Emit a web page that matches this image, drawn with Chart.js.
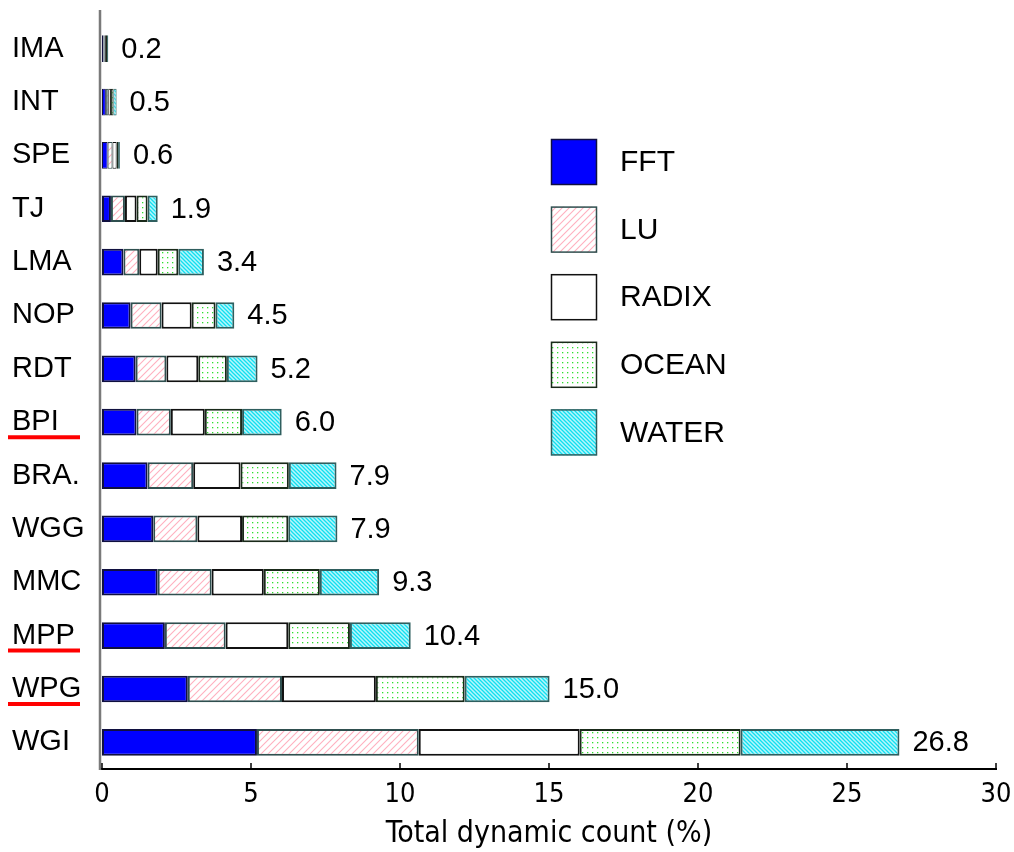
<!DOCTYPE html>
<html>
<head>
<meta charset="utf-8">
<script src="https://cdn.jsdelivr.net/npm/chart.js@4.4.1/dist/chart.umd.min.js"></script>
<style>
  html, body { margin: 0; padding: 0; background: #fff; }
  #wrap { width: 1014px; height: 852px; }
</style>
</head>
<body>
<div id="wrap"><canvas id="grafico" width="1014" height="852"></canvas></div>
<script>
// categorias (de cima para baixo)
var categorias = ['IMA', 'INT', 'SPE', 'TJ', 'LMA', 'NOP', 'RDT', 'BPI', 'BRA.', 'WGG', 'MMC', 'MPP', 'WPG', 'WGI'];

// valores por serie (%)
var valoresFFT   = [0.05, 0.13, 0.19, 0.30, 0.72, 0.96, 1.13, 1.16, 1.53, 1.72, 1.87, 2.11, 2.88, 5.20];
var valoresLU    = [0.04, 0.08, 0.16, 0.47, 0.53, 1.04, 1.03, 1.15, 1.53, 1.48, 1.81, 2.04, 3.16, 5.43];
var valoresRADIX = [0.04, 0.09, 0.14, 0.39, 0.62, 1.01, 1.07, 1.14, 1.59, 1.50, 1.75, 2.10, 3.15, 5.40];
var valoresOCEAN = [0.04, 0.08, 0.05, 0.37, 0.69, 0.80, 0.96, 1.25, 1.62, 1.55, 1.88, 2.07, 2.98, 5.40];
var valoresWATER = [0.04, 0.11, 0.06, 0.34, 0.86, 0.63, 1.03, 1.33, 1.60, 1.65, 1.99, 2.04, 2.85, 5.33];

// rotulos de total no fim de cada barra
var rotulosTotal = ['0.2', '0.5', '0.6', '1.9', '3.4', '4.5', '5.2', '6.0', '7.9', '7.9', '9.3', '10.4', '15.0', '26.8'];

// categorias sublinhadas em vermelho
var sublinhados = ['BPI', 'MPP', 'WPG'];

var ticksX = [0, 5, 10, 15, 20, 25, 30];

var fonte = '"Liberation Sans", Arial, sans-serif';
var fonteEstreita = '"Liberation Sans Narrow", "DejaVu Sans Condensed", "Liberation Sans", sans-serif';

//*******PADROES*******
function CriarPadrao(tamanho, desenhar) {
    var c = document.createElement('canvas');
    c.width = tamanho.w;
    c.height = tamanho.h;
    var ctx = c.getContext('2d');
    ctx.fillStyle = '#ffffff';
    ctx.fillRect(0, 0, c.width, c.height);
    desenhar(ctx);
    return document.getElementById('grafico').getContext('2d').createPattern(c, 'repeat');
}

var padraoLU = CriarPadrao({ w: 7, h: 7 }, function (ctx) {
    ctx.strokeStyle = '#ffb0bf';
    ctx.lineWidth = 1.1;
    ctx.beginPath();
    ctx.moveTo(0, 7); ctx.lineTo(7, 0);
    ctx.moveTo(-1, 1); ctx.lineTo(1, -1);
    ctx.moveTo(6, 8); ctx.lineTo(8, 6);
    ctx.stroke();
});

var padraoOCEAN = CriarPadrao({ w: 5, h: 5 }, function (ctx) {
    ctx.fillStyle = '#2ee02e';
    ctx.fillRect(2, 2, 1.3, 1.3);
});

var padraoWATER = CriarPadrao({ w: 4, h: 4 }, function (ctx) {
    ctx.fillStyle = '#b8f6fb';
    ctx.fillRect(0, 0, 4, 4);
    ctx.strokeStyle = '#10dff0';
    ctx.lineWidth = 1.3;
    ctx.beginPath();
    ctx.moveTo(0, 0); ctx.lineTo(4, 4);
    ctx.moveTo(3, -1); ctx.lineTo(5, 1);
    ctx.moveTo(-1, 3); ctx.lineTo(1, 5);
    ctx.stroke();
});

var series = [
    { label: 'FFT', data: valoresFFT, fundo: '#0000ff', borda: '#101040' },
    { label: 'LU', data: valoresLU, fundo: padraoLU, borda: '#2f4f4f' },
    { label: 'RADIX', data: valoresRADIX, fundo: '#ffffff', borda: '#111111' },
    { label: 'OCEAN', data: valoresOCEAN, fundo: padraoOCEAN, borda: '#1a2a1a' },
    { label: 'WATER', data: valoresWATER, fundo: padraoWATER, borda: '#2f5f5f' }
];

//*******PLUGINS*******
var pluginExtras = {
    id: 'extras',
    afterDatasetsDraw: function (chart) {
        var ctx = chart.ctx;
        var area = chart.chartArea;
        var escalaX = chart.scales.x;
        var escalaY = chart.scales.y;

        ctx.save();

        // eixo y cinza
        ctx.strokeStyle = '#7a7a7a';
        ctx.lineWidth = 2.5;
        ctx.beginPath();
        ctx.moveTo(area.left - 2, 10);
        ctx.lineTo(area.left - 2, area.bottom + 1);
        ctx.stroke();

        // marcas do eixo x para dentro
        ctx.strokeStyle = '#000';
        ctx.lineWidth = 1.5;
        ticksX.forEach(function (v) {
            var px = escalaX.getPixelForValue(v);
            ctx.beginPath();
            ctx.moveTo(px, area.bottom);
            ctx.lineTo(px, area.bottom - 6);
            ctx.stroke();
        });

        // rotulos de total
        var ultimo = chart.getDatasetMeta(chart.data.datasets.length - 1);
        ctx.fillStyle = '#000';
        ctx.font = '29px ' + fonte;
        ctx.textAlign = 'left';
        ctx.textBaseline = 'middle';
        ultimo.data.forEach(function (barra, i) {
            ctx.fillText(rotulosTotal[i], barra.x + 13, barra.y + 1);
        });

        // sublinhados vermelhos
        ctx.strokeStyle = '#ff0000';
        ctx.lineWidth = 4;
        sublinhados.forEach(function (nome) {
            var py = escalaY.getPixelForValue(categorias.indexOf(nome));
            ctx.beginPath();
            ctx.moveTo(8, py + 15);
            ctx.lineTo(80, py + 15);
            ctx.stroke();
        });

        // legenda
        var xCaixa = 551, yCaixa = 139, lado = 46, passo = 67.6;
        chart.data.datasets.forEach(function (ds, i) {
            var y = yCaixa + i * passo;
            ctx.fillStyle = ds.backgroundColor;
            ctx.fillRect(xCaixa, y, lado, lado);
            ctx.strokeStyle = ds.borderColor;
            ctx.lineWidth = 1.5;
            ctx.strokeRect(xCaixa + 0.5, y + 0.5, lado - 1, lado - 1);
            ctx.fillStyle = '#000';
            ctx.font = '30px ' + fonte;
            ctx.fillText(ds.label, 620, y + lado / 2 + 1);
        });

        ctx.restore();
    }
};

//*******GRAFICO*******
var grafico = new Chart(document.getElementById('grafico'), {
    type: 'bar',
    data: {
        labels: categorias,
        datasets: series.map(function (s) {
            return {
                label: s.label,
                data: s.data,
                backgroundColor: s.fundo,
                borderColor: s.borda,
                borderWidth: function (c) { return c.raw < 0.2 ? 1 : 2; },
                borderSkipped: false,
                barPercentage: 0.5,
                categoryPercentage: 1.0
            };
        })
    },
    options: {
        indexAxis: 'y',
        responsive: false,
        animation: false,
        layout: { padding: { left: 12, right: 18, top: 22, bottom: 0 } },
        plugins: {
            legend: { display: false },
            tooltip: { enabled: false }
        },
        scales: {
            x: {
                stacked: true,
                min: 0,
                max: 30,
                afterBuildTicks: function (scale) {
                    scale.ticks = ticksX.map(function (v) { return { value: v }; });
                },
                afterFit: function (scale) {
                    scale.height = 83;
                    scale.paddingLeft = 0;
                    scale.paddingRight = 0;
                },
                grid: { display: false, drawTicks: false },
                border: { display: true, color: '#000', width: 2 },
                ticks: {
                    color: '#000',
                    padding: 12,
                    maxRotation: 0,
                    font: { family: fonteEstreita, size: 27, lineHeight: 1 }
                },
                title: {
                    display: true,
                    text: 'Total dynamic count (%)',
                    color: '#000',
                    padding: { top: 12, bottom: 3 },
                    font: { family: fonteEstreita, size: 30, lineHeight: 1 }
                }
            },
            y: {
                stacked: true,
                afterFit: function (scale) {
                    scale.width = 90;
                    scale.paddingTop = 0;
                    scale.paddingBottom = 0;
                },
                grid: { display: false, drawTicks: false },
                border: { display: false },
                ticks: {
                    color: '#000',
                    crossAlign: 'far',
                    padding: 0,
                    font: { family: fonte, size: 29 }
                }
            }
        }
    },
    plugins: [pluginExtras]
});
</script>
</body>
</html>
